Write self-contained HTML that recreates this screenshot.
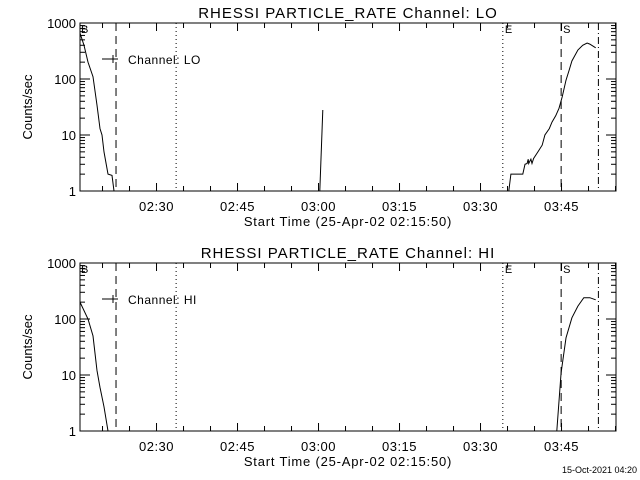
<!DOCTYPE html>
<html><head><meta charset="utf-8"><style>
html,body{margin:0;padding:0;background:#fff}
svg{display:block}
text{font-family:"Liberation Sans",sans-serif;fill:#000}
</style></head><body>
<svg id="c" width="640" height="480" viewBox="0 0 640 480" xmlns="http://www.w3.org/2000/svg"></svg>
<script>
// minutes after 02:15:50
const loTimes=[0,0.74,1.48,2.41,3.15,3.7,4.07,4.44,5.19,5.93,6.3];
const loValues=[660,400,200,110,34,13,10,5,2,1.9,1];
const loSpikeTimes=[44.4,44.97];
const loSpikeValues=[1,28];
const loLateTimes=[79.4,79.8,82.0,82.4,82.8,83.0,83.1,83.5,83.7,84.0,84.8,85.6,86.1,86.9,87.4,88.1,88.7,89.3,90.0,90.6,91.1,92.2,93.1,93.9,94.4,95.5];
const loLateValues=[1,2,2,3,3.1,3.7,3.1,3.7,3.1,3.8,5,6.6,10,13,17,22,30,48,95,145,210,330,400,440,420,360];
const hiTimes=[0,1.48,2.41,3.15,3.7,4.44,5.19];
const hiValues=[200,100,50,12,6,2.7,1];
const hiLateTimes=[88.3,89.1,89.4,89.4,90.0,91.1,92.2,93.3,94.4,95.5];
const hiLateValues=[1,11,18,18,46,105,170,240,240,220];
const xTickLabels=["02:30","02:45","03:00","03:15","03:30","03:45"];
const xTickMinutes=[14.17,29.17,44.17,59.17,74.17,89.17];
const yTickLabels=["1","10","100","1000"];
const yTickValues=[1,10,100,1000];
const markerTimes=[6.67,17.8,78.3,89.1,96.0];
const markerStyles=["dash","dot","dot","dash","dashdot"];
const markerLetters=["","","E","S",""];

const NS="http://www.w3.org/2000/svg";
const svg=document.getElementById('c');
function el(tag,attrs,parent){const e=document.createElementNS(NS,tag);for(const k in attrs)e.setAttribute(k,attrs[k]);(parent||svg).appendChild(e);return e;}
const X0=80,X1=616,PXM=5.4;
function xs(m){return X0+m*PXM;}

function panel(off,chan,series){
  const top=23+off,bot=191+off;
  const ys=v=>bot-Math.log10(v)*56;
  const g=el('g',{});
  
  
  const t=el('text',{x:348,y:18+off,'text-anchor':'middle','font-size':15,'letter-spacing':'1'},g);
  t.textContent='RHESSI PARTICLE_RATE Channel: '+chan;
  
  
  const fr=el('rect',{x:X0,y:top,width:X1-X0,height:bot-top,fill:'none',stroke:'#000','stroke-width':1},g);
  
  
  for(let d=0;d<3;d++){for(let k=1;k<10;k++){const v=Math.pow(10,d)*k;const y=ys(v);const L=k==1?10:5;
    el('line',{x1:X0,y1:y,x2:X0+L,y2:y,stroke:'#000'},g);el('line',{x1:X1,y1:y,x2:X1-L,y2:y,stroke:'#000'},g);}}
  yTickValues.forEach((v,i)=>{const tt=el('text',{x:76,y:ys(v)+5,'text-anchor':'end','font-size':13},g);tt.textContent=yTickLabels[i];
    
    });
  for(let m=4.17;m<99.3;m+=5){const x=xs(m);const L=(Math.abs(((m-14.17)%15+15)%15)<0.01)?8:5;
    el('line',{x1:x,y1:bot,x2:x,y2:bot-L,stroke:'#000'},g);el('line',{x1:x,y1:top,x2:x,y2:top+L,stroke:'#000'},g);}
  xTickMinutes.forEach((m,i)=>{const tt=el('text',{x:xs(m),y:bot+20,'text-anchor':'middle','font-size':13,'letter-spacing':'0.5'},g);tt.textContent=xTickLabels[i];
    
    });
  const xt=el('text',{x:348,y:bot+35,'text-anchor':'middle','font-size':13,'letter-spacing':'0.8'},g);xt.textContent='Start Time (25-Apr-02 02:15:50)';
  
  
  const yt=el('text',{x:0,y:0,'text-anchor':'middle','font-size':13,transform:'translate(32,'+(107+off)+') rotate(-90)'},g);yt.textContent='Counts/sec';
  
  
  markerTimes.forEach((m,i)=>{const x=xs(m);const da={dash:'8,5',dot:'1,3',dashdot:'7,3,1,3'}[markerStyles[i]];
    const ln=el('line',{x1:x,y1:top,x2:x,y2:bot,stroke:'#000','stroke-dasharray':da},g);
    
    
    if(markerLetters[i]){const lt=el('text',{x:x+2,y:top+10,'font-size':11},g);lt.textContent=markerLetters[i];
      
      }});
  const bl=el('text',{x:X0+1,y:top+10,'font-size':11},g);bl.textContent='B';
  
  
  el('line',{x1:102,y1:59+off,x2:118,y2:59+off,stroke:'#000'},g);
  el('line',{x1:113,y1:55+off,x2:113,y2:63+off,stroke:'#000'},g);
  const lg=el('text',{x:128,y:64+off,'font-size':12,'letter-spacing':'0.5'},g);lg.textContent='Channel: '+chan;
  
  
  series.forEach(([ts,vs])=>{const pts=ts.map((m,i)=>xs(m).toFixed(1)+','+ys(vs[i]).toFixed(1)).join(' ');
    const pl=el('polyline',{points:pts,fill:'none',stroke:'#000','stroke-width':1},g);
    
    });
}
panel(0,'LO',[[loTimes,loValues],[loSpikeTimes,loSpikeValues],[loLateTimes,loLateValues]]);
panel(240,'HI',[[hiTimes,hiValues],[hiLateTimes,hiLateValues]]);
const ft=el('text',{x:637,y:473,'text-anchor':'end','font-size':9});ft.textContent='15-Oct-2021 04:20';


</script>
</body></html>
